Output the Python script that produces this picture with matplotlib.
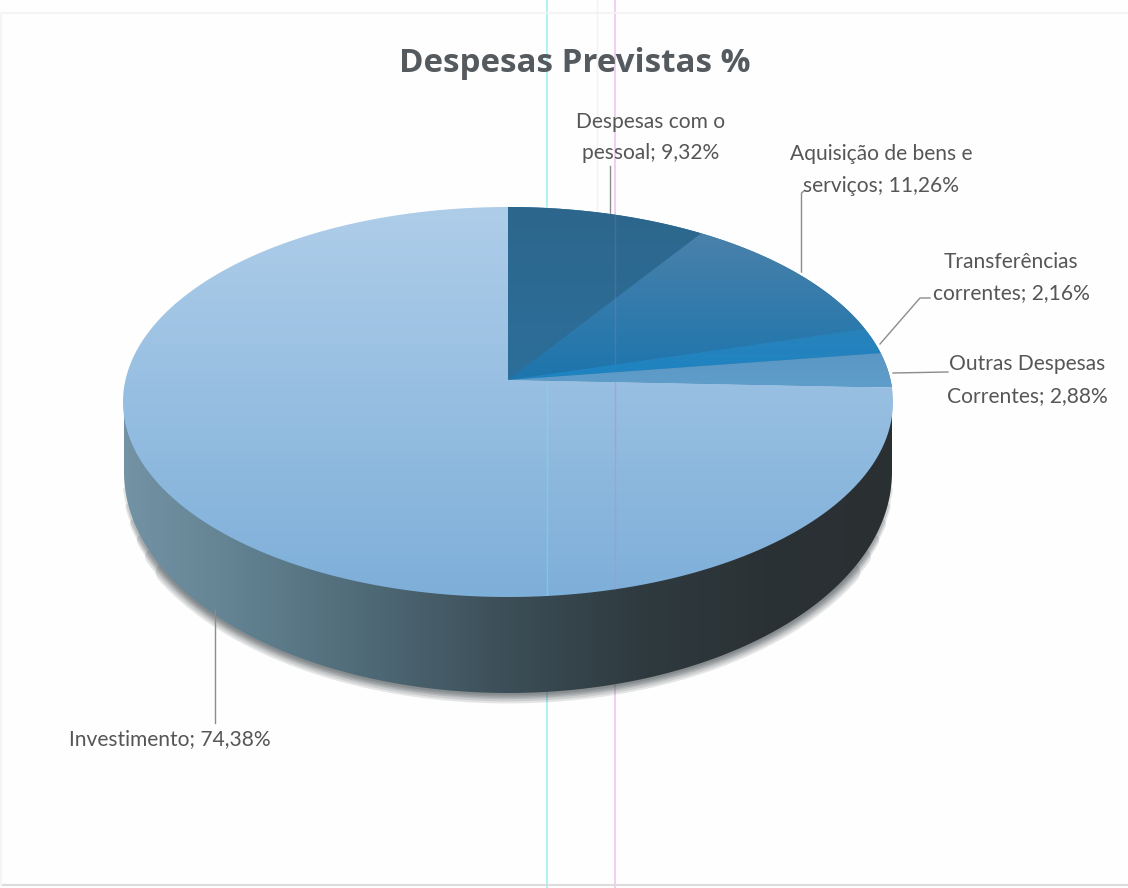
'''

  Despesas Previstas % - 3D style pie rebuilt from its percentages

'''

# Load required modules

import numpy as np
from matplotlib import pyplot as plt
from matplotlib.colors import LinearSegmentedColormap
from matplotlib.patches import Polygon

# Chart data

categories = ['Despesas com o\npessoal', 'Aquisição de bens e\nserviços', 'Transferências\ncorrentes',
              'Outras Despesas\nCorrentes', 'Investimento']
values = [9.32, 11.26, 2.16, 2.88, 74.38]
title = 'Despesas Previstas %'

# Geometry of the tilted pie (pixels)

cx, cy = 508., 402.
a, b = 385., 195.
k = 0.113  # moves the apex up from the ellipse centre, gives the perspective
# bottom rim of the wall is a separate, rounder ellipse
by, ba, bb = 472., 384., 221.


def project(frac):
    # fraction of the circle (clockwise from the top) -> point on the rim
    th = 2*np.pi*np.asarray(frac)
    u, v = np.sin(th), np.cos(th)
    den = 1 + k*v
    return cx + a*u*np.sqrt(1 - k**2)/den, cy - b*(v + k)/den


def gradient(ax, cols, extent, clip, horizontal=False, z=3):
    cmap = LinearSegmentedColormap.from_list('g', cols)
    grad = np.linspace(0, 1, 256)
    grad = grad[None, :] if horizontal else grad[:, None]
    im = ax.imshow(grad, cmap=cmap, extent=extent, aspect='auto', zorder=z, interpolation='bilinear')
    im.set_clip_path(clip)


fig = plt.figure(figsize=(11.28, 8.88), dpi=100, facecolor='#fefefe')
ax = fig.add_axes([0, 0, 1, 1])

# Scan marks behind the chart

ax.plot([547, 547], [0, 888], color='#a9f1f3', lw=1.3, zorder=1)
ax.plot([614.5, 614.5], [0, 888], color='#efc6f2', lw=1.2, zorder=1)
ax.plot([597, 597], [0, 215], color='#f8f0f8', lw=1, zorder=1)
ax.plot([0, 1128], [13, 13], color='#f2f2f2', lw=1.2, zorder=1)
ax.plot([0, 1128], [885, 885], color='#dcdcdc', lw=1.5, zorder=1)
ax.plot([1, 1], [13, 885], color='#f5f5f5', lw=1.5, zorder=1)

# Side wall with soft shadow along the bottom rim

ph = np.linspace(0, np.pi, 400)
wx = cx - ba*np.cos(ph)
wy = by + bb*np.sin(ph)
wall = np.vstack([[[cx - ba, cy + 5]], np.column_stack([wx, wy]), [[cx + ba, cy + 5]]])
for lw, cut in [(15, 60), (12, 50), (9, 40), (7, 30), (5, 20), (3, 10)]:
    # wider strokes stop earlier so that the ends fade out
    ax.plot(wx[cut:-cut], wy[cut:-cut], color='#30383c', lw=lw, alpha=0.13, zorder=2, solid_capstyle='round')
clip = Polygon(wall, closed=True, fc='none', ec='none', zorder=3)
ax.add_patch(clip)
gradient(ax, ['#7393a5', '#607f8e', '#4d6774', '#3c4e57', '#2f3b40', '#2b3235', '#2a2f32'],
         [cx - ba, cx + ba, by + bb, cy], clip, horizontal=True)

# Top face, one clipped gradient per slice

face_cols = [['#2c668c', '#2d6f9a'],
             ['#4a81aa', '#1c75ad'],
             ['#2a82ba', '#1c84c2'],
             ['#5b97c4', '#5f9dcb'],
             ['#aecde9', '#7eafd9']]
starts = np.cumsum([0] + values[:-1])/np.sum(values)
ends = np.cumsum(values)/np.sum(values)
apex = (cx, cy - b*k)

# base under the dark slices hides the seams of the clip paths
px, py = project(np.linspace(starts[0], ends[3], 300))
ax.add_patch(Polygon(np.vstack([[apex], np.column_stack([px, py])]), closed=True, fc='#2b74a8', ec='none', zorder=3.5))

faces = []
for ed in [4, 0, 1, 2, 3]:
    px, py = project(np.linspace(starts[ed], ends[ed], 300))
    verts = np.vstack([[apex], np.column_stack([px, py])])
    poly = Polygon(verts, closed=True, fc='none', ec='none', zorder=4)
    ax.add_patch(poly)
    faces.append(poly)
    ext = [verts[:, 0].min(), verts[:, 0].max(), verts[:, 1].max(), verts[:, 1].min()]
    gradient(ax, face_cols[ed], ext, poly, z=4)

# Scan marks again, fainter over the face

ln, = ax.plot([547, 547], [cy - b, cy + b], color='#7fdde8', lw=1, alpha=0.5, zorder=5)
ln.set_clip_path(faces[0])
ln, = ax.plot([614.5, 614.5], [cy - b, cy + b], color='#b58fd0', lw=1, alpha=0.6, zorder=5)
ln.set_clip_path(faces[0])
for ed in [1, 2]:
    ln, = ax.plot([614.5, 614.5], [cy - b, cy + b], color='#b58fd0', lw=1, alpha=0.2, zorder=5)
    ln.set_clip_path(faces[ed])

# Leader lines

lead = '#8c8c8c'
ax.plot([610, 610], [166, 213], color=lead, lw=1, zorder=6)
ax.plot([804, 801.5, 801.5], [191, 193, 272], color=lead, lw=1, zorder=6)
ax.plot([930, 920, 880], [298, 298, 344], color=lead, lw=1, zorder=6)
ax.plot([948, 893], [372, 373], color=lead, lw=1, zorder=6)
ax.plot([215, 215], [610, 723], color=lead, lw=1, zorder=6)

# Labels

tcol = '#565656'
fnt = 'Lato'
lx = [651, 881, 1011, 1027, 170]
ly = [137.5, 170, 277.5, 380, 739]
for ed in range(len(categories)):
    txt = categories[ed] + '; ' + ('%.2f' % values[ed]).replace('.', ',') + '%'
    ax.text(lx[ed], ly[ed], txt, ha='center', va='center', fontsize=15.1, color=tcol,
            family=fnt, linespacing=1.73, zorder=7)
ax.text(575, 63, title, ha='center', va='center', fontsize=23.9, fontweight='bold',
        color='#555a5f', family='Open Sans', zorder=7)

ax.set_xlim(0, 1128)
ax.set_ylim(888, 0)
ax.axis('off')
plt.savefig('out.png', dpi=100, facecolor=fig.get_facecolor())
